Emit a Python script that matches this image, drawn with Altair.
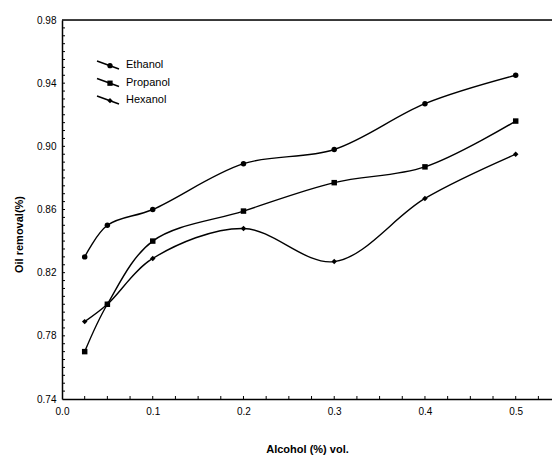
import altair as alt
import pandas as pd
import numpy as np

alcohol = [0.025, 0.05, 0.1, 0.2, 0.3, 0.4, 0.5]
ethanol = [0.830, 0.850, 0.860, 0.889, 0.898, 0.927, 0.945]
propanol = [0.770, 0.800, 0.840, 0.859, 0.877, 0.887, 0.916]
hexanol = [0.789, 0.800, 0.829, 0.848, 0.827, 0.867, 0.895]
series_names = ["Ethanol", "Propanol", "Hexanol"]
marker_shapes = ["circle", "square", "diamond"]

rows = []
for name, vals in zip(series_names, [ethanol, propanol, hexanol]):
    for xv, yv in zip(alcohol, vals):
        rows.append({"alcohol": xv, "removal": yv, "series": name})
df = pd.DataFrame(rows)

FONT = "Liberation Sans"
W, H = 490, 379
xdom = [0, 0.54]
ydom = [0.74, 0.98]

xs = alt.Scale(domain=xdom, nice=False, zero=False)
ys = alt.Scale(domain=ydom, nice=False, zero=False)

lines = alt.Chart(df).mark_line(
    color="black", strokeWidth=1.4, interpolate="catmull-rom"
).encode(
    x=alt.X("alcohol:Q", scale=xs,
            axis=alt.Axis(title="Alcohol (%) vol.", values=[0, 0.1, 0.2, 0.3, 0.4, 0.5],
                          format=".1f", ticks=False, labelPadding=7, titlePadding=27,
                          labelFlush=False,
                          domainColor="black", domainWidth=1.5, grid=False)),
    y=alt.Y("removal:Q", scale=ys,
            axis=alt.Axis(title="Oil removal(%)", values=[0.74, 0.78, 0.82, 0.86, 0.90, 0.94, 0.98],
                          format=".2f", ticks=False, labelPadding=6, titlePadding=12,
                          labelFlush=False,
                          domainColor="black", domainWidth=1.5, grid=False, titleY=214)),
    detail="series:N",
)

points = alt.Chart(df).mark_point(filled=True, color="black", size=30, opacity=1).encode(
    x=alt.X("alcohol:Q", scale=xs),
    y=alt.Y("removal:Q", scale=ys),
    shape=alt.Shape("series:N", scale=alt.Scale(domain=series_names, range=marker_shapes), legend=None),
)

# manual legend (diagonal line + marker + label), placed in pixels
legend_layers = []
for i, (name, shp) in enumerate(zip(series_names, marker_shapes)):
    cy = 45 + i * 17.5
    one = pd.DataFrame({"series": [name]})
    legend_layers.append(alt.Chart(one).mark_rule(color="black", strokeWidth=1.4).encode(
        x=alt.value(35), y=alt.value(cy - 4), x2=alt.value(57), y2=alt.value(cy + 4)))
    legend_layers.append(alt.Chart(one).mark_point(filled=True, color="black", size=28, opacity=1,
                                                  shape=shp).encode(
        x=alt.value(48), y=alt.value(cy + 0.7)))
    legend_layers.append(alt.Chart(one).mark_text(font=FONT, fontSize=11, color="black",
                                                 align="left", baseline="middle").encode(
        x=alt.value(64), y=alt.value(cy), text="series:N"))

# inward ticks
ymin = [round(v, 3) for v in np.arange(0.745, 0.98, 0.005)]
xmin = [round(v, 3) for v in np.arange(0.025, 0.54, 0.025)]
yt = alt.Chart(pd.DataFrame({"v": ymin})).mark_rule(color="black", strokeWidth=1).encode(
    y=alt.Y("v:Q", scale=ys), x=alt.value(0), x2=alt.value(3))
xt = alt.Chart(pd.DataFrame({"v": xmin})).mark_rule(color="black", strokeWidth=1).encode(
    x=alt.X("v:Q", scale=xs), y=alt.value(H), y2=alt.value(H - 3))
top = alt.Chart(pd.DataFrame({"v": [ydom[1]]})).mark_rule(color="black", strokeWidth=1.5).encode(
    y=alt.Y("v:Q", scale=ys), x=alt.value(0), x2=alt.value(W))

chart = alt.layer(lines, points, yt, xt, top, *legend_layers).properties(
    width=W, height=H,
    autosize=alt.AutoSizeParams(type="none"),
    padding={"left": 62, "top": 20, "right": 0, "bottom": 58},
).configure_view(stroke=None).configure_axis(
    labelFont=FONT, labelFontSize=11, labelColor="#222", titleFont=FONT,
    titleFontSize=12, titleFontWeight="bold", titleColor="black",
).configure(background="white")

chart.save("out.html", embed_options={"renderer": "svg", "actions": False})
